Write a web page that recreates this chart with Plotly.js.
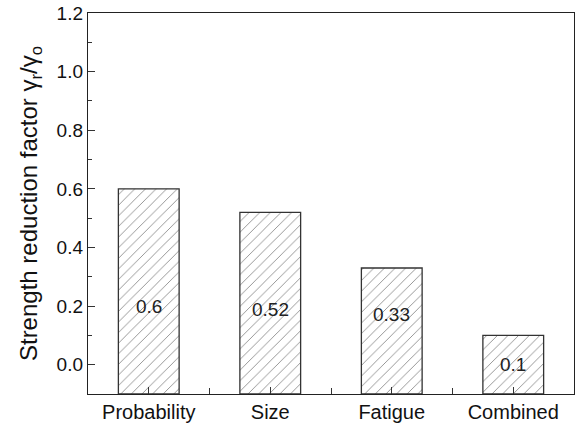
<!DOCTYPE html>
<html>
<head>
<meta charset="utf-8">
<script src="https://cdn.plot.ly/plotly-3.0.1.min.js"></script>
<style>html,body{margin:0;padding:0;background:#fff;}#chart{width:578px;height:425px;}</style>
</head>
<body>
<div id="chart"></div>
<script>
const categories = ["Probability", "Size", "Fatigue", "Combined"];
const values = [0.6, 0.52, 0.33, 0.1];
const valueLabels = ["0.6", "0.52", "0.33", "0.1"];
const labelY = [0.2, 0.19, 0.17, 0.0];
const yTickVals = [0.0, 0.2, 0.4, 0.6, 0.8, 1.0, 1.2];
const yTickText = ["0.0", "0.2", "0.4", "0.6", "0.8", "1.0", "1.2"];
const yMin = -0.1, yMax = 1.2;

const xPos = categories.map((c, i) => i);

const trace = {
  type: 'bar',
  x: xPos,
  y: values.map(v => v - yMin),
  base: yMin,
  width: 0.5,
  marker: {
    color: '#ffffff',
    line: {color: '#333333', width: 1.3},
    pattern: {shape: '/', fgcolor: '#777777', bgcolor: '#ffffff', size: 7.5, solidity: 0.1}
  },
  hoverinfo: 'none'
};

const FAM = 'Arial, Liberation Sans, sans-serif';

const annotations = categories.map((c, i) => ({
  x: xPos[i], y: labelY[i], xref: 'x', yref: 'y',
  text: valueLabels[i], showarrow: false,
  font: {family: FAM, size: 19, color: '#222'}
}));

const layout = {
  width: 578, height: 425,
  margin: {l: 88, r: 4, t: 13, b: 31},
  paper_bgcolor: '#fff', plot_bgcolor: '#fff',
  showlegend: false,
  font: {family: FAM, size: 19, color: '#111'},
  xaxis: {
    range: [-0.5, 3.5],
    tickmode: 'array', tickvals: xPos, ticktext: categories,
    ticks: 'inside', ticklen: 7, tickwidth: 1, tickcolor: '#333',
    minor: {tickmode: 'linear', tick0: 0.5, dtick: 1, ticks: 'inside', ticklen: 6, tickcolor: '#333'},
    showline: true, linecolor: '#222', linewidth: 1.2, mirror: true,
    showgrid: false, zeroline: false,
    tickfont: {family: FAM, size: 20, color: '#111'}
  },
  yaxis: {
    range: [yMin, yMax],
    tickmode: 'array', tickvals: yTickVals, ticktext: yTickText,
    ticks: 'inside', ticklen: 7, tickwidth: 1, tickcolor: '#333',
    minor: {tickmode: 'linear', tick0: 0.1, dtick: 0.2, ticks: 'inside', ticklen: 4, tickcolor: '#333'},
    showline: true, linecolor: '#222', linewidth: 1.2, mirror: true,
    showgrid: false, zeroline: false,
    tickfont: {family: FAM, size: 19, color: '#111'},
    title: {text: 'Strength reduction factor γ<sub>r</sub>/γ<sub>o</sub>', font: {family: FAM, size: 24, color: '#111'}, standoff: 12}
  },
  annotations: annotations
};

Plotly.newPlot('chart', [trace], layout, {displayModeBar: false, staticPlot: true});
</script>
</body>
</html>
